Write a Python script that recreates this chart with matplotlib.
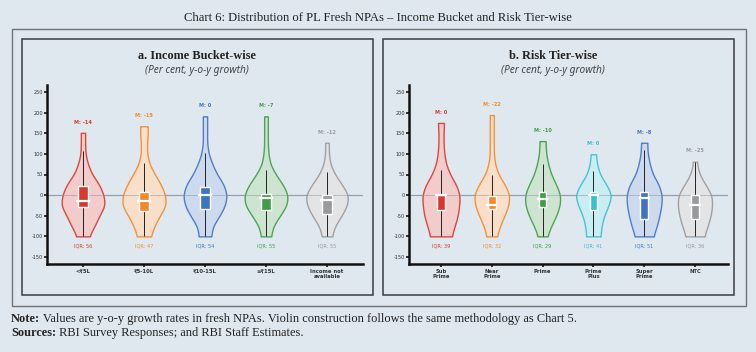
import numpy as np
import matplotlib
matplotlib.use("Agg")
import matplotlib.pyplot as plt
from matplotlib.patches import Rectangle
from matplotlib.colors import to_rgba, to_rgb

# ---------------- data ----------------
levels = [-100, -75, -50, -25, 0, 25, 50, 75, 100, 125, 150, 175]

cats_a = ["<₹5L", "₹5-10L", "₹10-15L", "≥₹15L", "Income not\navailable"]
colors_a = ["#d9382c", "#f5892a", "#3f74c4", "#3e9e44", "#9a9a9a"]
tops_a = [151, 167, 191, 191, 127]
# half-widths (category units) at each level below the top, last value = width at the top
prof_a = [
    [0.10, 0.19, 0.27, 0.36, 0.34, 0.27, 0.15, 0.08, 0.04, 0.035, 0.035, 0.035],
    [0.11, 0.17, 0.26, 0.36, 0.35, 0.28, 0.18, 0.09, 0.05, 0.05, 0.065, 0.06],
    [0.10, 0.13, 0.24, 0.33, 0.36, 0.31, 0.20, 0.12, 0.06, 0.035, 0.035, 0.035, 0.035],
    [0.08, 0.12, 0.23, 0.34, 0.36, 0.28, 0.16, 0.07, 0.04, 0.03, 0.03, 0.03, 0.03],
    [0.08, 0.13, 0.24, 0.33, 0.35, 0.25, 0.13, 0.055, 0.03, 0.03, 0.03],
]
q1_a = [-30, -39, -33, -35, -45]
q3_a = [23, 7, 20, 3, 0]
med_a = [-14, -15, 0, -7, -12]
whi_a = [107, 79, 103, 62, 55]
mlab_a = ["M: -14", "M: -15", "M: 0", "M: -7", "M: -12"]
iqr_a = ["IQR: 56", "IQR: 47", "IQR: 54", "IQR: 55", "IQR: 55"]

cats_b = ["Sub\nPrime", "Near\nPrime", "Prime", "Prime\nPlus", "Super\nPrime", "NTC"]
colors_b = ["#d9382c", "#f5892a", "#3e9e44", "#35c0d0", "#3f74c4", "#9a9a9a"]
tops_b = [175, 194, 131, 99, 127, 81]
prof_b = [
    [0.21, 0.27, 0.33, 0.36, 0.37, 0.30, 0.18, 0.10, 0.065, 0.05, 0.05, 0.06],
    [0.10, 0.16, 0.25, 0.33, 0.35, 0.26, 0.13, 0.065, 0.04, 0.04, 0.04, 0.04, 0.04],
    [0.09, 0.17, 0.27, 0.34, 0.35, 0.27, 0.17, 0.11, 0.07, 0.06, 0.06],
    [0.14, 0.16, 0.21, 0.30, 0.36, 0.26, 0.13, 0.07, 0.05],
    [0.18, 0.25, 0.30, 0.34, 0.35, 0.29, 0.17, 0.11, 0.07, 0.06, 0.06],
    [0.18, 0.25, 0.31, 0.34, 0.33, 0.21, 0.09, 0.04, 0.04],
]
q1_b = [-36, -33, -29, -35, -57, -57]
q3_b = [0, -1, 8, 8, 8, 0]
med_b = [0, -24, -9, 0, -8, -25]
whi_b = [60, 50, 75, 58, 110, 81]
mlab_b = ["M: 0", "M: -22", "M: -10", "M: 0", "M: -8", "M: -25"]
iqr_b = ["IQR: 39", "IQR: 32", "IQR: 29", "IQR: 41", "IQR: 51", "IQR: 36"]

yticks = [-150, -100, -50, 0, 50, 100, 150, 200, 250]

BG = "#dfe8ee"

# ---------------- helpers ----------------
def make_stats(prof, top):
    lv = [l for l in levels if l < top] + [top]
    ys = np.linspace(-100, top, 240)
    w = np.interp(ys, lv, prof)
    step = ys[1] - ys[0]
    sig = 9.0 / step
    k = np.arange(-int(4 * sig), int(4 * sig) + 1)
    ker = np.exp(-0.5 * (k / sig) ** 2)
    ker /= ker.sum()
    pad = len(k) // 2
    wp = np.pad(w, pad, mode="edge")
    ws = np.convolve(wp, ker, mode="valid")
    return dict(coords=ys, vals=ws, mean=0.0, median=0.0, min=-100.0, max=float(top),
                quantiles=[])


def pastel(c, f=0.27):
    r, g, b = to_rgb(c)
    return (f * r + (1 - f), f * g + (1 - f), f * b + (1 - f), 0.9)


def draw_panel(ax, cats, colors, tops, profs, q1, q3, med, whi, mlab, iqr):
    pos = np.arange(len(cats))
    ax.axhline(0, color="#8a9aa6", lw=0.9, alpha=0.8, zorder=1)
    stats = [make_stats(p, t) for p, t in zip(profs, tops)]
    widths = [2 * s["vals"].max() for s in stats]
    parts = ax.violin(stats, positions=pos, widths=widths, showmeans=False,
                      showextrema=False, showmedians=False)
    for body, c in zip(parts["bodies"], colors):
        body.set_alpha(None)
        body.set_facecolor(pastel(c))
        body.set_edgecolor(to_rgba(c, 0.9))
        body.set_linewidth(1.0)
        body.set_zorder(2)
    ax.axhline(0, color="#8a9aa6", lw=0.7, alpha=0.5, zorder=2.5)
    ax.vlines(pos, -100, whi, color="#222222", lw=0.7, zorder=3)
    ax.bar(pos, np.array(q3) - np.array(q1), bottom=q1, width=0.15, color=colors,
           edgecolor="white", linewidth=1.0, zorder=4)
    ax.hlines(med, pos - 0.11, pos + 0.11, color="white", lw=1.6, zorder=5)
    for x, t, c, lab, iq in zip(pos, tops, colors, mlab, iqr):
        ax.text(x, t + 26, lab, ha="center", va="center", fontsize=3.6,
                color=c, fontweight="bold")
        ax.text(x, -124, iq, ha="center", va="center", fontsize=3.6, color=c)
    ax.set_ylim(-167, 267)
    ax.set_yticks(yticks)
    ax.set_yticklabels([str(v) for v in yticks])
    ax.set_xticks(pos)
    ax.set_xticklabels(cats, fontsize=3.8, fontweight="bold", color="#333333",
                       linespacing=1.0)
    ax.set_facecolor(BG)
    for s in ["top", "right"]:
        ax.spines[s].set_visible(False)
    for s in ["left", "bottom"]:
        ax.spines[s].set_linewidth(1.8)
        ax.spines[s].set_color("#111111")
    ax.tick_params(axis="y", labelsize=3.6, length=2.0, width=1.2, pad=1,
                   colors="#111111", labelcolor="#333333")
    ax.tick_params(axis="x", length=2.0, width=1.2, pad=1.5, colors="#111111",
                   labelcolor="#333333")


# ---------------- figure ----------------
W, H = 756, 352
fig = plt.figure(figsize=(W / 100, H / 100), dpi=100, facecolor=BG)


def fx(px):
    return px / W


def fy(py):
    return 1 - py / H


# outer box and panel boxes
fig.patches.append(Rectangle((fx(12), fy(306)), fx(734), (306 - 29) / H,
                             transform=fig.transFigure, fill=False,
                             edgecolor="#6f7478", lw=1.0))
for x0, x1 in [(22, 373), (383, 734)]:
    fig.patches.append(Rectangle((fx(x0), fy(295)), fx(x1 - x0), (295 - 39) / H,
                                 transform=fig.transFigure, fill=False,
                                 edgecolor="#3a3d40", lw=1.1))

fig.text(0.5, fy(18), "Chart 6: Distribution of PL Fresh NPAs – Income Bucket and Risk Tier-wise",
         ha="center", va="center", fontsize=9.1, family="Liberation Serif", color="#222222")

fig.text(fx(197), fy(56), "a. Income Bucket-wise", ha="center", va="center",
         fontsize=8.8, family="Liberation Serif", fontweight="bold", color="#222222")
fig.text(fx(197), fy(71), "(Per cent, y-o-y growth)", ha="center", va="center",
         fontsize=7.3, family="Noto Sans", style="italic", color="#444444")
fig.text(fx(553), fy(56), "b. Risk Tier-wise", ha="center", va="center",
         fontsize=8.8, family="Liberation Serif", fontweight="bold", color="#222222")
fig.text(fx(553), fy(71), "(Per cent, y-o-y growth)", ha="center", va="center",
         fontsize=7.3, family="Noto Sans", style="italic", color="#444444")

axa = fig.add_axes([fx(47), fy(264), fx(316), (264 - 85) / H])
draw_panel(axa, cats_a, colors_a, tops_a, prof_a, q1_a, q3_a, med_a, whi_a, mlab_a, iqr_a)
axa.set_xlim(-0.59, 4.59)

axb = fig.add_axes([fx(409), fy(264), fx(319), (264 - 85) / H])
draw_panel(axb, cats_b, colors_b, tops_b, prof_b, q1_b, q3_b, med_b, whi_b, mlab_b, iqr_b)
axb.set_xlim(-0.63, 5.65)

renderer = fig.canvas.get_renderer()
for ypx, head, rest in [(319, "Note:", " Values are y-o-y growth rates in fresh NPAs. Violin construction follows the same methodology as Chart 5."),
                        (333, "Sources:", " RBI Survey Responses; and RBI Staff Estimates.")]:
    t1 = fig.text(fx(11), fy(ypx), head, fontsize=8.9, family="Liberation Serif",
                  fontweight="bold", va="center", color="#222222")
    bb = t1.get_window_extent(renderer)
    fig.text(bb.x1 / W, fy(ypx), rest, fontsize=8.9, family="Liberation Serif",
             va="center", color="#222222")

fig.savefig("out.png", dpi=100, facecolor=BG)
